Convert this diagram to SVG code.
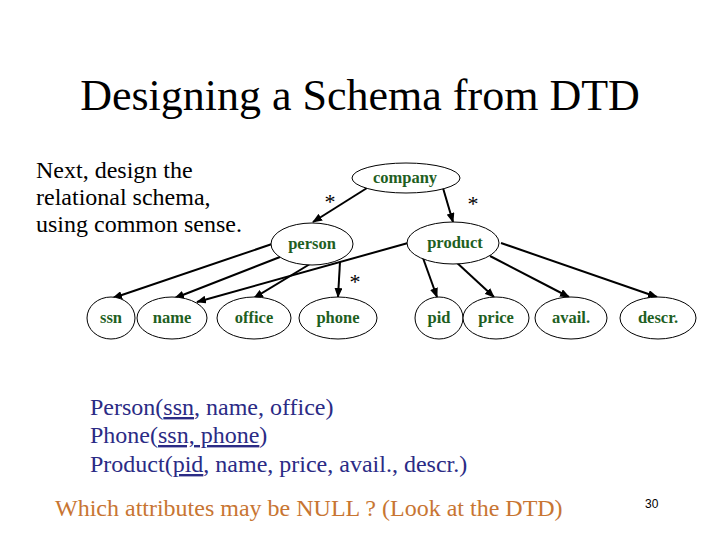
<svg xmlns="http://www.w3.org/2000/svg" width="720" height="540" viewBox="0 0 720 540">
<style>
.n ellipse{fill:#fff;stroke:#000;stroke-width:1}
.n text{font-weight:bold;font-size:16.5px;fill:#1f5f1f;text-anchor:middle}
.e line{stroke:#000;stroke-width:2;marker-end:url(#ah)}
.star{font-size:22px;fill:#000;text-anchor:middle}
.body{font-size:24px;fill:#000}
.rel{font-size:24px;fill:#2b2b85}
</style>
<defs>
<marker id="ah" markerWidth="10" markerHeight="8" refX="9" refY="4" orient="auto" markerUnits="userSpaceOnUse">
<path d="M0,0 L10,4 L0,8 z" fill="#000"/>
</marker>
</defs>
<rect width="720" height="540" fill="#fff"/>
<text font-family="Liberation Serif" x="360" y="110" font-size="44" text-anchor="middle" fill="#000">Designing a Schema from DTD</text>
<text font-family="Liberation Serif" class="body" x="36" y="178">Next, design the</text>
<text font-family="Liberation Serif" class="body" x="36" y="205">relational schema,</text>
<text font-family="Liberation Serif" class="body" x="36" y="232">using common sense.</text>
<g id="edges" class="e">
<line x1="367" y1="188" x2="313" y2="222"/>
<line x1="443" y1="188" x2="453" y2="222"/>
<line x1="272" y1="244" x2="113" y2="298"/>
<line x1="280" y1="257" x2="175" y2="298"/>
<line x1="310" y1="264" x2="254" y2="298"/>
<line x1="340" y1="262" x2="338" y2="297"/>
<line x1="408" y1="243" x2="197" y2="302"/>
<line x1="423" y1="258" x2="437" y2="297"/>
<line x1="455" y1="261" x2="494" y2="297"/>
<line x1="490" y1="256" x2="569" y2="297"/>
<line x1="501" y1="243" x2="657" y2="297"/>
</g>
<text font-family="Liberation Serif" class="star" x="330" y="209">*</text>
<text font-family="Liberation Serif" class="star" x="473" y="211">*</text>
<text font-family="Liberation Serif" class="star" x="355" y="289">*</text>
<g id="company" class="n"><ellipse cx="406" cy="178" rx="54" ry="15"/><text font-family="Liberation Serif" x="405" y="183">company</text></g>
<g id="person" class="n"><ellipse cx="312" cy="244" rx="41" ry="21"/><text font-family="Liberation Serif" x="312" y="249">person</text></g>
<g id="product" class="n"><ellipse cx="453" cy="243" rx="46" ry="21"/><text font-family="Liberation Serif" x="455" y="248">product</text></g>
<g id="ssn" class="n"><ellipse cx="111" cy="318" rx="24" ry="21"/><text font-family="Liberation Serif" x="111" y="323">ssn</text></g>
<g id="name" class="n"><ellipse cx="172" cy="318" rx="35" ry="21"/><text font-family="Liberation Serif" x="172" y="323">name</text></g>
<g id="office" class="n"><ellipse cx="254" cy="318" rx="37" ry="21"/><text font-family="Liberation Serif" x="254" y="323">office</text></g>
<g id="phone" class="n"><ellipse cx="338" cy="318" rx="39" ry="21"/><text font-family="Liberation Serif" x="338" y="323">phone</text></g>
<g id="pid" class="n"><ellipse cx="439" cy="318" rx="24" ry="21"/><text font-family="Liberation Serif" x="439" y="323">pid</text></g>
<g id="price" class="n"><ellipse cx="496" cy="318" rx="33" ry="21"/><text font-family="Liberation Serif" x="496" y="323">price</text></g>
<g id="avail" class="n"><ellipse cx="571" cy="318" rx="36" ry="21"/><text font-family="Liberation Serif" x="571" y="323">avail.</text></g>
<g id="descr" class="n"><ellipse cx="658" cy="318" rx="38" ry="21"/><text font-family="Liberation Serif" x="658" y="323">descr.</text></g>
<text font-family="Liberation Serif" class="rel" x="90" y="415">Person(<tspan text-decoration="underline">ssn</tspan>, name, office)</text>
<text font-family="Liberation Serif" class="rel" x="90" y="443">Phone(<tspan text-decoration="underline">ssn, phone</tspan>)</text>
<text font-family="Liberation Serif" class="rel" x="90" y="472">Product(<tspan text-decoration="underline">pid</tspan>, name, price, avail., descr.)</text>
<text font-family="Liberation Serif" x="55" y="516" font-size="24" fill="#c87532">Which attributes may be NULL ? (Look at the DTD)</text>
<text font-family="Liberation Sans" x="645" y="508" font-size="12" fill="#000">30</text>
</svg>
